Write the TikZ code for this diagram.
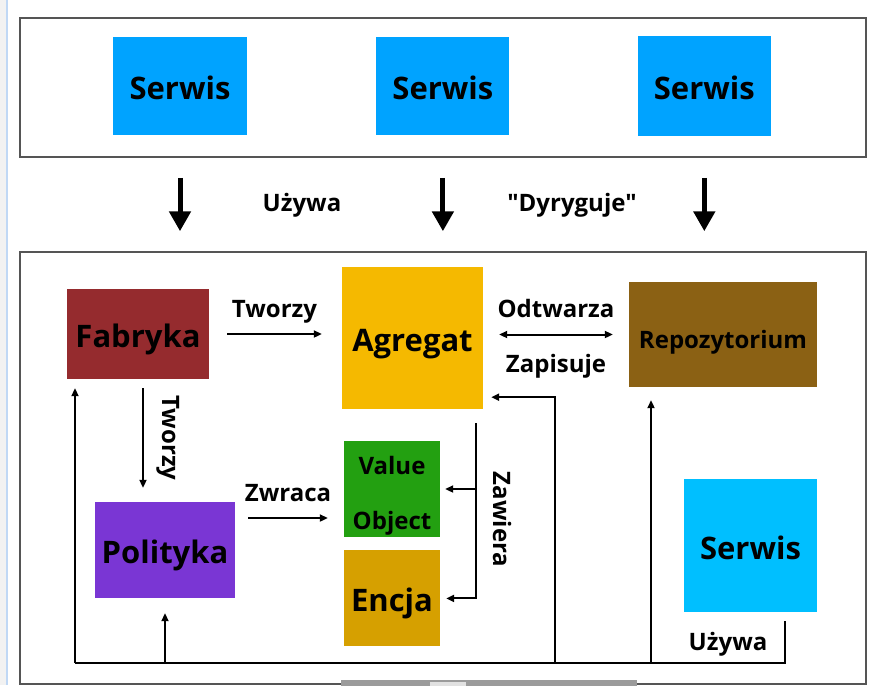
\documentclass[tikz,border=0pt]{standalone}
\usepackage{fontspec}
\setmainfont{Open Sans}[Ligatures=TeXOff]
\usetikzlibrary{arrows.meta, positioning}
\definecolor{serwisblue}{RGB}{0,163,255}
\definecolor{serwiscyan}{RGB}{0,191,255}
\definecolor{fabrykared}{RGB}{149,43,46}
\definecolor{agregatyellow}{RGB}{245,185,0}
\definecolor{politykapurple}{RGB}{122,54,212}
\definecolor{valuegreen}{RGB}{35,160,17}
\definecolor{encjagold}{RGB}{214,160,0}
\definecolor{repobrown}{RGB}{139,97,20}
\definecolor{framegray}{RGB}{85,85,85}
\definecolor{sidegray}{RGB}{242,242,242}
\definecolor{sideblue}{RGB}{192,216,245}
\definecolor{bargray}{RGB}{155,155,155}
\definecolor{barlight}{RGB}{225,225,225}

\begin{document}
\begin{tikzpicture}[
        x=1pt, y=-1pt,
        block/.style={rectangle, draw=none, inner sep=0pt, align=center, text height=27pt, text depth=0pt, font=\fontsize{31}{37}\selectfont\bfseries},
        twolines/.style={rectangle, draw=none, inner sep=0pt, align=center, font=\fontsize{24}{55}\selectfont\bfseries},
        layer/.style={rectangle, draw=framegray, line width=1.5pt, fill=white},
        rel/.style={inner sep=3pt, text height=17pt, text depth=5pt, font=\fontsize{24}{29}\selectfont\bfseries},
        arrow/.style={-{Triangle[length=8pt,width=7pt]}, line width=2pt},
        twoway/.style={{Triangle[length=8pt,width=7pt]}-{Triangle[length=8pt,width=7pt]}, line width=2pt},
        bigarrow/.style={-{Triangle[length=20pt,width=21pt]}, line width=5pt}
    ]
        \useasboundingbox (0,0) rectangle (877,685);
        \fill[white] (0,0) rectangle (877,685);
        \fill[sidegray] (0,0) rectangle (6,685);
        \fill[sideblue] (6,0) rectangle (7.5,685);

        % warstwa aplikacji
        \node[layer, minimum width=846pt, minimum height=139pt] (services) at (443,87.5) {};
        \node[block, fill=serwisblue, minimum width=134pt, minimum height=98pt] (srv1) at (180,86) {Serwis};
        \node[block, fill=serwisblue, minimum width=133pt, minimum height=98pt, right=129pt of srv1] (srv2) {Serwis};
        \node[block, fill=serwisblue, minimum width=133pt, minimum height=100pt, right=128pt of srv2] (srv3) {Serwis};

        % warstwa domeny
        \node[layer, minimum width=846pt, minimum height=432pt] (domain) at (443,468) {};

        \foreach \s in {srv1,srv2,srv3}
            \draw[bigarrow] ([yshift=-20pt]services.south -| \s) -- ([yshift=20pt]domain.north -| \s);
        \node[rel, anchor=base] (uses) at (302,211) {Używa};
        \node[rel, anchor=base] (conducts) at (572,211) {"Dyryguje"};

        \node[block, fill=fabrykared, minimum width=142pt, minimum height=90pt] (fab) at (138,334) {Fabryka};
        \node[block, fill=agregatyellow, minimum width=141pt, minimum height=142pt] (agr) at (412.5,338) {Agregat};
        \node[block, fill=repobrown, minimum width=188pt, minimum height=105pt, text height=28pt, font=\fontsize{24}{29}\selectfont\bfseries] (repo) at (723,334.5) {Repozytorium};
        \node[block, fill=politykapurple, minimum width=140pt, minimum height=96pt] (pol) at (165,550) {Polityka};
        \node[twolines, fill=valuegreen, minimum size=96pt] (vo) at (392,489) {\rule{0pt}{32pt}Value\\Object};
        \node[block, fill=encjagold, minimum size=96pt, below=13pt of vo] (enc) {Encja};
        \node[block, fill=serwiscyan, minimum size=133pt] (srv4) at (750.5,545.5) {Serwis};

        \draw[arrow] ([xshift=18pt]fab.east) -- ([xshift=-20pt]fab.east -| agr.west)
            node[midway, rel, above=8pt] (creates1) {Tworzy};
        \draw[arrow] ([xshift=5pt,yshift=-9pt]fab.south) -- ([xshift=5pt,yshift=14pt]fab.south |- pol.north)
            node[midway, rel, sloped, above=10pt] (creates2) {Tworzy};
        \draw[arrow] ([xshift=13pt,yshift=32pt]pol.east) -- ([xshift=-16pt,yshift=32pt]pol.east -| vo.west)
            node[midway, rel, above=8pt] (returns) {Zwraca};
        \draw[twoway] ([xshift=16pt]repo.west -| agr.east) -- ([xshift=-16pt]repo.west)
            node[midway, rel, above=8pt] (restores) {Odtwarza}
            node[midway, rel, below=17pt] (saves) {Zapisuje};

        \coordinate (zaw) at ([xshift=-7pt,yshift=-14pt]agr.south east);
        \draw[arrow] (zaw) |- ([xshift=6pt]enc.east)
            node[pos=0.275, rel, sloped, above=8pt] (contains) {Zawiera};
        \draw[arrow] (zaw |- vo.east) -- ([xshift=5pt]vo.east);

        % szyna na dole
        \coordinate (busstart) at (75,663);
        \coordinate (busend) at (785,663);
        \coordinate (agrbus) at (555,663);
        \coordinate (repobus) at (651,663);
        \draw[line width=2pt] ([xshift=34.5pt,yshift=-9pt]srv4.south) -- (busend) -- (busstart);
        \draw[arrow] (busstart) -- ([yshift=-9pt]busstart |- fab.south);
        \draw[arrow] (busstart -| pol) -- ([yshift=-15pt]pol.south);
        \draw[arrow] (agrbus) |- ([xshift=8pt,yshift=12pt]agr.south east);
        \draw[arrow] (repobus) -- ([yshift=-13pt]repobus |- repo.south);
        \node[rel, anchor=base] (uses2) at (728,650) {Używa};

        \fill[bargray] (341,680) rectangle (637,686);
        \fill[barlight] (430,682) rectangle (466,686);
    \end{tikzpicture}
\end{document}
